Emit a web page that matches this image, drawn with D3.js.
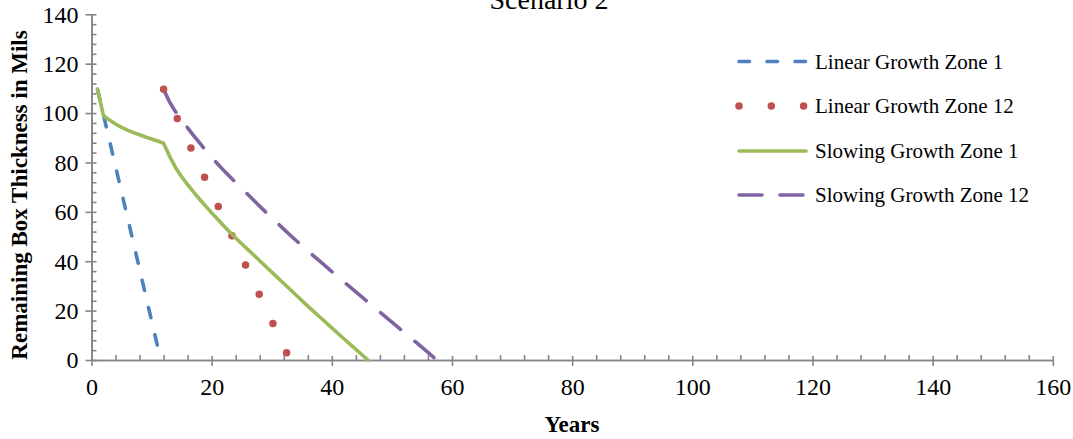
<!DOCTYPE html>
<html>
<head>
<meta charset="utf-8">
<script src="https://cdn.jsdelivr.net/npm/d3@7"></script>
<style>
  html, body { margin: 0; padding: 0; background: #fff; }
  svg { display: block; font-family: "Liberation Serif", "Times New Roman", serif; }
</style>
</head>
<body>
<svg id="chart" width="1073" height="439"></svg>
<script>
// Remaining box thickness (mils) by year for each growth model / zone
const linearZone1Years = [1, 2, 3, 4, 5, 6, 7, 8, 9, 10, 11];
const linearZone1Values = [109.6, 99.2, 88.8, 78.4, 68.0, 57.6, 47.2, 36.8, 26.3, 15.9, 5.5];

const linearZone12Years = [12, 13, 14, 15, 16, 17, 18, 19, 20, 21, 22, 23, 24, 25, 26, 27, 28, 29, 30, 31, 32, 33];
const linearZone12Values = [109.6, 104.4, 99.2, 94.0, 88.7, 83.5, 78.3, 73.1, 67.9, 62.7, 57.5, 52.3, 47.1, 41.8, 36.6, 31.4, 26.2, 21.0, 15.8, 10.6, 5.4, 0.2];

const slowingZone1Years = [1, 2, 3, 4, 5, 6, 7, 8, 9, 10, 11, 12, 13, 14, 15, 16, 17, 18, 19, 20, 21, 22, 23, 24, 25, 26, 27, 28, 30, 32, 34, 36, 38, 40, 42, 44, 46];
const slowingZone1Values = [109.6, 98.9, 97.2, 95.6, 94.2, 93.1, 92.1, 91.2, 90.3, 89.5, 88.7, 87.8, 82.5, 77.9, 74.2, 71.0, 68.0, 65.1, 62.3, 59.6, 57.0, 54.4, 51.8, 49.4, 47.1, 44.8, 42.5, 40.2, 35.6, 31.0, 26.4, 21.8, 17.4, 13.0, 8.6, 4.3, 0.0];

const slowingZone12Years = [12, 13, 14, 15, 16, 17, 18, 19, 20, 21, 22, 23, 24, 25, 26, 27, 28, 29, 30, 31, 32, 33, 34, 36, 38, 40, 42, 44, 46, 48, 50, 52, 54, 56, 57];
const slowingZone12Values = [109.6, 104.5, 100.5, 97.2, 94.0, 90.9, 87.9, 84.9, 82.1, 79.4, 76.8, 74.3, 71.9, 69.5, 67.1, 64.7, 62.3, 59.9, 57.6, 55.3, 53.0, 50.7, 48.5, 44.2, 40.0, 35.8, 31.7, 27.6, 23.5, 19.4, 15.3, 11.3, 7.2, 3.1, 1.0];

const seriesNames = ["Linear Growth Zone 1", "Linear Growth Zone 12", "Slowing Growth Zone 1", "Slowing Growth Zone 12"];
const xTicks = [0, 20, 40, 60, 80, 100, 120, 140, 160];
const yTicks = [0, 20, 40, 60, 80, 100, 120, 140];
const titleText = "Scenario 2";
const xTitle = "Years";
const yTitle = "Remaining Box Thickness in Mils";

const zip = (xs, ys) => xs.map((v, i) => ({ x: v, y: ys[i] }));

// visual style for each series (same order as seriesNames)
// dash = [dash, gap]; fit = stretch the pattern so a dash lands on the line end
const styles = [
  { color: "#4F81BD", width: 3.6, dash: [10.5, 17.5], fit: false },
  { color: "#C0504D", width: 7.5, dash: [0, 32.3], fit: false },
  { color: "#9BBB59", width: 3.6, dash: null, fit: false },
  { color: "#8064A2", width: 3.6, dash: [25, 18], fit: true }
];
const seriesData = [
  zip(linearZone1Years, linearZone1Values),
  zip(linearZone12Years, linearZone12Values),
  zip(slowingZone1Years, slowingZone1Values),
  zip(slowingZone12Years, slowingZone12Values)
];

const svg = d3.select("#chart");
const axisColor = "#868686";

const x = d3.scaleLinear().domain([0, 160]).range([91.5, 1052.8]);
const y = d3.scaleLinear().domain([0, 140]).range([360, 14.3]);

// chart title (runs past the top edge)
svg.append("text")
  .attr("x", 549).attr("y", 9)
  .attr("text-anchor", "middle")
  .attr("font-size", 28)
  .attr("fill", "#000")
  .text(titleText);

// x axis: minor ticks inside, major ticks crossing
const xMinor = d3.range(0, 161, 4).filter(v => v % 20 !== 0);
const gx = svg.append("g").attr("transform", `translate(0,${y(0)})`);
gx.call(d3.axisBottom(x).tickValues(xMinor).tickSizeInner(-5).tickSizeOuter(0).tickFormat(""));
const gxMajor = svg.append("g").attr("transform", `translate(0,${y(0)})`);
gxMajor.call(d3.axisBottom(x).tickValues(xTicks).tickSizeOuter(0).tickPadding(0).tickFormat(d3.format("d")));
gxMajor.selectAll(".tick line").attr("y1", -4).attr("y2", 6);
gxMajor.selectAll(".tick text").attr("y", 35).attr("dy", 0).attr("font-size", 24)
  .attr("font-family", "Liberation Serif, serif").attr("fill", "#000");

// y axis
const yMinor = d3.range(0, 141, 4).filter(v => v % 20 !== 0);
const gy = svg.append("g").attr("transform", `translate(${x(0)},0)`);
gy.call(d3.axisLeft(y).tickValues(yMinor).tickSizeInner(-5).tickSizeOuter(0).tickFormat(""));
const gyMajor = svg.append("g").attr("transform", `translate(${x(0)},0)`);
gyMajor.call(d3.axisLeft(y).tickValues(yTicks).tickSizeOuter(0).tickFormat(d3.format("d")));
gyMajor.selectAll(".tick line").attr("x1", 5).attr("x2", -6);
gyMajor.selectAll(".tick text").attr("x", -13).attr("dy", "0.33em").attr("font-size", 24)
  .attr("font-family", "Liberation Serif, serif").attr("fill", "#000");

[gx, gxMajor, gy, gyMajor].forEach(g => {
  g.selectAll("path.domain").attr("stroke", axisColor).attr("stroke-width", 1.6);
  g.selectAll(".tick line").attr("stroke", axisColor).attr("stroke-width", 1.6);
});

// series lines
const line = d3.line().x(d => x(d.x)).y(d => y(d.y));
const drawOrder = [3, 0, 1, 2];
drawOrder.forEach(i => {
  const s = styles[i];
  const path = svg.append("path")
    .datum(seriesData[i])
    .attr("d", line)
    .attr("fill", "none")
    .attr("stroke", s.color)
    .attr("stroke-width", s.width)
    .attr("stroke-linecap", "round")
    .attr("stroke-linejoin", "round");
  if (s.dash) {
    let [on, off] = s.dash;
    if (s.fit) {
      const len = path.node().getTotalLength();
      const period = on + off;
      const n = Math.round((len - on) / period);
      const k = (len - on) / (n * period);
      on *= k; off *= k;
    }
    path.attr("stroke-dasharray", `${on},${off}`);
  }
});

// axis titles
svg.append("text")
  .attr("x", 572).attr("y", 432)
  .attr("text-anchor", "middle")
  .attr("font-size", 23).attr("font-weight", "bold")
  .text(xTitle);

svg.append("text")
  .attr("transform", "translate(27,195) rotate(-90)")
  .attr("text-anchor", "middle")
  .attr("font-size", 23).attr("font-weight", "bold")
  .text(yTitle);

// legend
const legendY = [61.5, 106, 151, 195];
const legend = svg.append("g");
seriesNames.forEach((name, i) => {
  const s = styles[i];
  legend.append("line")
    .attr("x1", 739).attr("x2", 806)
    .attr("y1", legendY[i]).attr("y2", legendY[i])
    .attr("stroke", s.color)
    .attr("stroke-width", s.width)
    .attr("stroke-linecap", "round")
    .attr("stroke-dasharray", s.dash ? (i === 3 ? "23,18" : s.dash.join(",")) : null);
  legend.append("text")
    .attr("x", 815).attr("y", legendY[i])
    .attr("dy", "0.35em")
    .attr("font-size", 21)
    .text(name);
});
</script>
</body>
</html>
